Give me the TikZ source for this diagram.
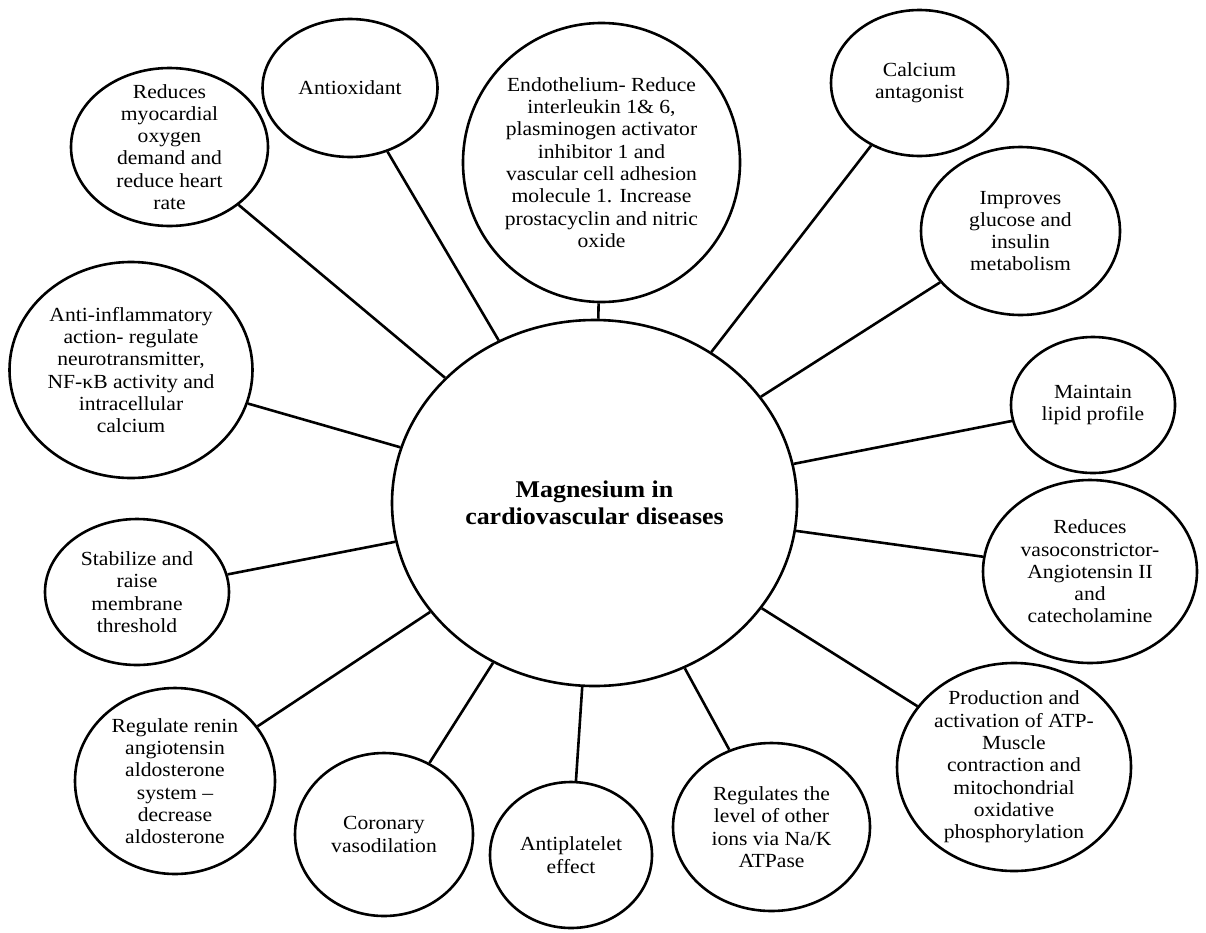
\documentclass[tikz,border=0pt]{standalone}
\usepackage{fontspec}
\setmainfont{Liberation Serif}[FakeStretch=1.08]
\usetikzlibrary{shapes.geometric}
\tikzset{
  bub/.style={ellipse, draw=black, line width=2.6pt, inner sep=0pt, fill=white},
  txt/.style={align=center, inner sep=0pt, font=\fontsize{20}{22.3}\selectfont},
  link/.style={draw=black, line width=2.6pt}
}
\begin{document}
\begin{tikzpicture}[x=1pt,y=-1pt]
\useasboundingbox[fill=white] (0,0) rectangle (1206,932);
% bubbles
\node[bub, minimum width=405pt, minimum height=366pt] (c) at (594.5,503) {};
\node[bub, minimum width=197pt, minimum height=158pt] (b1) at (169.5,147) {};
\node[bub, minimum width=175pt, minimum height=138pt] (b2) at (350,88) {};
\node[bub, minimum width=277pt, minimum height=279pt] (b3) at (601.5,162.5) {};
\node[bub, minimum width=177pt, minimum height=146pt] (b4) at (919.5,83) {};
\node[bub, minimum width=199pt, minimum height=168pt] (b5) at (1020.5,231) {};
\node[bub, minimum width=164pt, minimum height=136pt] (b6) at (1093,405) {};
\node[bub, minimum width=214pt, minimum height=183pt] (b7) at (1090,571.5) {};
\node[bub, minimum width=234pt, minimum height=208pt] (b8) at (1014,767) {};
\node[bub, minimum width=197pt, minimum height=168pt] (b9) at (771.5,827) {};
\node[bub, minimum width=162pt, minimum height=146pt] (b10) at (571,855) {};
\node[bub, minimum width=178pt, minimum height=163pt] (b11) at (384,834.5) {};
\node[bub, minimum width=200pt, minimum height=186pt] (b12) at (175,781) {};
\node[bub, minimum width=184pt, minimum height=146pt] (b13) at (137,592) {};
\node[bub, minimum width=243pt, minimum height=216pt] (b14) at (131,370) {};
% connectors
\foreach \b in {b1,b2,b3,b4,b5,b6,b7,b8,b9,b10,b11,b12,b13,b14}
  \draw[link] (c) -- (\b);
% texts
\node[align=center, inner sep=0pt, font=\fontsize{24}{27}\selectfont\bfseries] (tc) at (c) {Magnesium in\\cardiovascular diseases};
\node[txt] (t1) at (b1) {Reduces\\myocardial\\oxygen\\demand and\\reduce heart\\rate};
\node[txt] (t2) at (b2) {Antioxidant};
\node[txt] (t3) at (b3) {Endothelium- Reduce\\interleukin 1\& 6,\\plasminogen activator\\inhibitor 1 and\\vascular cell adhesion\\molecule 1. Increase\\prostacyclin and nitric\\oxide};
\node[txt] (t4) at (b4) {Calcium\\antagonist};
\node[txt] (t5) at (b5) {Improves\\glucose and\\insulin\\metabolism};
\node[txt] (t6) at (b6) {Maintain\\lipid profile};
\node[txt] (t7) at (b7) {Reduces\\vasoconstrictor-\\Angiotensin II\\and\\catecholamine};
\node[txt] (t8) at (b8) {Production and\\activation of ATP-\\Muscle\\contraction and\\mitochondrial\\oxidative\\phosphorylation};
\node[txt] (t9) at (b9) {Regulates the\\level of other\\ions via Na/K\\ATPase};
\node[txt] (t10) at (b10) {Antiplatelet\\effect};
\node[txt] (t11) at (b11) {Coronary\\vasodilation};
\node[txt] (t12) at (b12) {Regulate renin\\angiotensin\\aldosterone\\system –\\decrease\\aldosterone};
\node[txt] (t13) at (b13) {Stabilize and\\raise\\membrane\\threshold};
\node[txt] (t14) at (b14) {Anti-inflammatory\\action- regulate\\neurotransmitter,\\NF-κB activity and\\intracellular\\calcium};
\end{tikzpicture}
\end{document}
